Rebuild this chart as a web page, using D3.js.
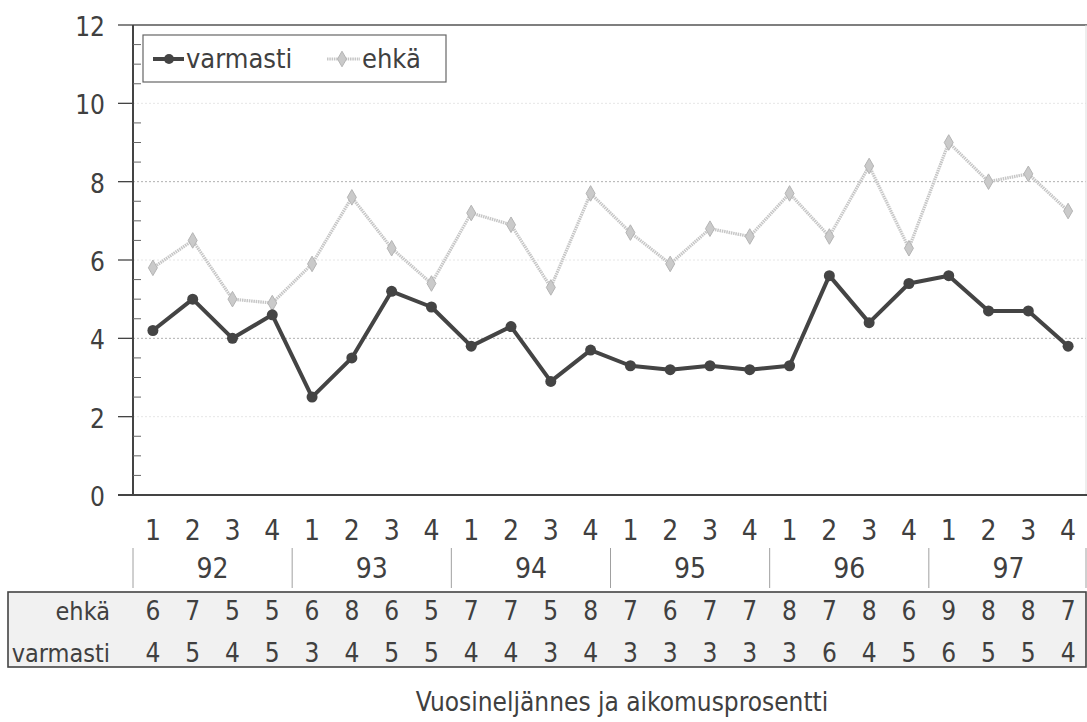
<!DOCTYPE html>
<html><head><meta charset="utf-8">
<script src="https://cdn.jsdelivr.net/npm/d3@7"></script>
<style>
body{margin:0;background:#fff;}
text{font-family:"DejaVu Sans Condensed","Liberation Sans Narrow",sans-serif;font-stretch:condensed;fill:#404040;}
</style></head>
<body><svg id="c" width="1087" height="722"></svg>
<script>
const years = ["92","93","94","95","96","97"];
const quarters = ["1","2","3","4"];
const varmasti = [4.2,5.0,4.0,4.6, 2.5,3.5,5.2,4.8, 3.8,4.3,2.9,3.7, 3.3,3.2,3.3,3.2, 3.3,5.6,4.4,5.4, 5.6,4.7,4.7,3.8];
const ehka = [5.8,6.5,5.0,4.9, 5.9,7.6,6.3,5.4, 7.2,6.9,5.3,7.7, 6.7,5.9,6.8,6.6, 7.7,6.6,8.4,6.3, 9.0,8.0,8.2,7.25];
const ehkaTable = [6,7,5,5, 6,8,6,5, 7,7,5,8, 7,6,7,7, 8,7,8,6, 9,8,8,7];
const varmastiTable = [4,5,4,5, 3,4,5,5, 4,4,3,4, 3,3,3,3, 3,6,4,5, 6,5,5,4];
const yTicks = [0,2,4,6,8,10,12];
const gridStrong = [4,8];
const gridFaint = [2,6,10];

const svg = d3.select("#c");
const L=133, R=1088, T=25, B=495;
const cats = [];
years.forEach(y=>quarters.forEach(q=>cats.push(y+"-"+q)));
const x = d3.scaleBand().domain(cats).range([L,R]);
const y = d3.scaleLinear().domain([0,12]).range([B,T]);
const cx = c => x(c)+x.bandwidth()/2;

// grid
svg.selectAll(".gf").data(gridFaint).join("line")
  .attr("x1",L).attr("x2",R-2).attr("y1",d=>y(d)).attr("y2",d=>y(d))
  .attr("stroke","#e6e6e6").attr("stroke-width",1).attr("stroke-dasharray","2,2");
svg.selectAll(".gs").data(gridStrong).join("line")
  .attr("x1",L).attr("x2",R-2).attr("y1",d=>y(d)).attr("y2",d=>y(d))
  .attr("stroke","#b0b0b0").attr("stroke-width",1).attr("stroke-dasharray","2,2");

// plot frame
svg.append("line").attr("x1",L).attr("x2",R).attr("y1",T).attr("y2",T).attr("stroke","#555").attr("stroke-width",1.5);
svg.append("line").attr("x1",R-2).attr("x2",R-2).attr("y1",T).attr("y2",B).attr("stroke","#ddd").attr("stroke-width",1);
svg.append("line").attr("x1",L).attr("x2",L).attr("y1",T).attr("y2",B).attr("stroke","#444").attr("stroke-width",2);
svg.append("line").attr("x1",118).attr("x2",R).attr("y1",B).attr("y2",B).attr("stroke","#444").attr("stroke-width",2);

// y axis ticks
svg.selectAll(".maj").data(yTicks).join("line")
  .attr("x1",118).attr("x2",L).attr("y1",d=>y(d)).attr("y2",d=>y(d)).attr("stroke","#444").attr("stroke-width",1.3);
const minor = d3.range(0.5,12,0.5).filter(v=>v%2!==0);
svg.selectAll(".min").data(minor).join("line")
  .attr("x1",L).attr("x2",L+8).attr("y1",d=>y(d)).attr("y2",d=>y(d)).attr("stroke","#666").attr("stroke-width",1);
svg.selectAll(".yl").data(yTicks).join("text")
  .attr("x",105).attr("y",d=>y(d)+11).attr("text-anchor","end").attr("font-size",26).text(d=>d);

// lines
const lineGen = d3.line().x((d,i)=>cx(cats[i])).y(d=>y(d));
svg.append("path").datum(ehka).attr("d",lineGen).attr("fill","none")
  .attr("stroke","#c6c6c6").attr("stroke-width",3.2).attr("stroke-dasharray","1.5,0.8");
svg.selectAll(".em").data(ehka).join("path")
  .attr("transform",(d,i)=>`translate(${cx(cats[i])},${y(d)})`)
  .attr("d",d3.symbol(d3.symbolDiamond,70)).attr("fill","#cacaca").attr("stroke","#b4b4b4").attr("stroke-width",1);
svg.append("path").datum(varmasti).attr("d",lineGen).attr("fill","none")
  .attr("stroke","#444").attr("stroke-width",4).attr("stroke-linejoin","round");
svg.selectAll(".vm").data(varmasti).join("circle")
  .attr("cx",(d,i)=>cx(cats[i])).attr("cy",d=>y(d)).attr("r",5.5).attr("fill","#444");

// legend
const lg = svg.append("g");
lg.append("rect").attr("x",143).attr("y",35).attr("width",303).attr("height",47).attr("fill","#fff").attr("stroke","#666").attr("stroke-width",1.2);
lg.append("line").attr("x1",153).attr("x2",184).attr("y1",59).attr("y2",59).attr("stroke","#444").attr("stroke-width",4);
lg.append("circle").attr("cx",169).attr("cy",59).attr("r",5).attr("fill","#444");
lg.append("text").attr("x",186).attr("y",68).attr("font-size",27).text("varmasti");
lg.append("line").attr("x1",327).attr("x2",360).attr("y1",59).attr("y2",59).attr("stroke","#c6c6c6").attr("stroke-width",3.2).attr("stroke-dasharray","1.5,0.8");
lg.append("path").attr("transform","translate(342,59)").attr("d",d3.symbol(d3.symbolDiamond,70)).attr("fill","#cacaca").attr("stroke","#b4b4b4");
lg.append("text").attr("x",362).attr("y",68).attr("font-size",27).text("ehkä");

// quarter labels
svg.selectAll(".ql").data(cats).join("text")
  .attr("x",d=>cx(d)).attr("y",540).attr("text-anchor","middle").attr("font-size",28).text(d=>d.split("-")[1]);
// year labels and separators
const yearX = yr => x(yr+"-1");
const sepX = years.map(yearX).concat([R-2]);
svg.selectAll(".ysep").data(sepX).join("line")
  .attr("x1",d=>d).attr("x2",d=>d)
  .attr("y1",548).attr("y2",588).attr("stroke","#a0a0a0").attr("stroke-width",1);
svg.selectAll(".yl2").data(years).join("text")
  .attr("x",d=>(yearX(d)+x(d+"-4")+x.bandwidth())/2).attr("y",578).attr("text-anchor","middle").attr("font-size",28).text(d=>d);

// table
svg.append("rect").attr("x",8).attr("y",592).attr("width",1078).attr("height",75).attr("fill","#f1f1f1").attr("stroke","#444").attr("stroke-width",1.6);
const rows = [["ehkä",ehkaTable,620],["varmasti",varmastiTable,662]];
rows.forEach((r,ri)=>{
  svg.append("text").attr("x",110).attr("y",r[2]).attr("text-anchor","end").attr("font-size",25).text(r[0]);
  svg.selectAll(".tv"+ri).data(r[1]).join("text")
    .attr("x",(d,i)=>cx(cats[i])).attr("y",r[2]).attr("text-anchor","middle").attr("font-size",26).text(d=>d);
});

svg.append("text").attr("x",622).attr("y",711).attr("text-anchor","middle").attr("font-size",26).text("Vuosineljännes ja aikomusprosentti");
</script></body></html>
